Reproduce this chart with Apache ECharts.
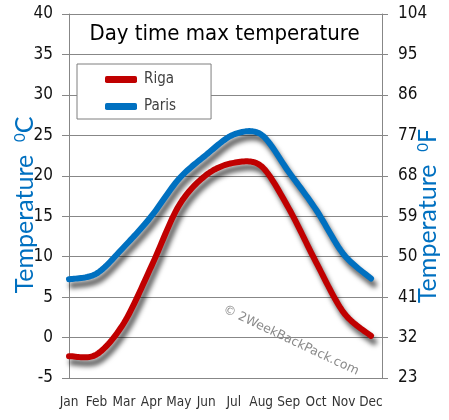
<!DOCTYPE html>
<html><head><meta charset="utf-8">
<script src="https://cdn.jsdelivr.net/npm/echarts@6/dist/echarts.min.js"></script>
<style>html,body{margin:0;padding:0;background:#fff}#c{width:449px;height:420px}</style>
</head><body><div id="c"></div>
<script>
var months = ['Jan','Feb','Mar','Apr','May','Jun','Jul','Aug','Sep','Oct','Nov','Dec'];
var riga = [-2.3, -2.1, 1.8, 8.8, 16.3, 20.1, 21.6, 21.2, 16.0, 9.3, 3.1, 0.2];
var paris = [7.2, 7.9, 11.2, 15.0, 19.6, 22.6, 25.1, 25.1, 20.5, 15.8, 10.3, 7.3];
var celsiusTicks = [-5, 0, 5, 10, 15, 20, 25, 30, 35, 40];
var fahrenheitTicks = [23, 32, 41, 50, 59, 68, 77, 86, 95, 104];

function pts(arr){ return arr.map(function(v,i){ return [i, v]; }); }

// smooth (Catmull-Rom style) line through the data points, positioned by api.coord
function smoothRenderer(arr, color){
  return function(params, api){
    if (params.dataIndex !== 0) return null;
    var p = arr.map(function(v,i){ return api.coord([i, v]); });
    var out = [p[0]];
    var t = 0.155, steps = 16;
    for (var i = 0; i < p.length-1; i++){
      var p0 = p[i-1] || p[i], p1 = p[i], p2 = p[i+1], p3 = p[i+2] || p[i+1];
      var c1 = [p1[0]+(p2[0]-p0[0])*t, p1[1]+(p2[1]-p0[1])*t];
      var c2 = [p2[0]-(p3[0]-p1[0])*t, p2[1]-(p3[1]-p1[1])*t];
      for (var s = 1; s <= steps; s++){
        var u = s/steps, a = (1-u)*(1-u)*(1-u), b = 3*(1-u)*(1-u)*u, c = 3*(1-u)*u*u, d = u*u*u;
        out.push([a*p1[0]+b*c1[0]+c*c2[0]+d*p2[0], a*p1[1]+b*c1[1]+c*c2[1]+d*p2[1]]);
      }
    }
    return {type:'polyline', shape:{points:out},
      style:{fill:null, stroke:color, lineWidth:6, lineCap:'round', lineJoin:'round',
        shadowColor:'rgba(0,0,0,0.65)', shadowBlur:5, shadowOffsetX:3, shadowOffsetY:6}};
  };
}

var chart = echarts.init(document.getElementById('c'), null, {renderer:'canvas'});
var labelFont = 'DejaVu Sans Condensed, sans-serif';
var nameFont = 'Lato, Noto Sans, sans-serif';
var gridCol = '#878787';
var nameRich = {s:{fontFamily:nameFont, fontSize:15, fill:'#0070c0', verticalAlign:'top', padding:[0,0,8,0]}};

chart.setOption({
  animation:false,
  backgroundColor:'#ffffff',
  title:{
    text:'Day time max temperature', left:'center', top:18,
    textStyle:{fontFamily:'DejaVu Sans Condensed, sans-serif', fontWeight:'normal', fontSize:22, color:'#000'}
  },
  legend:{
    data:['Riga','Paris'], orient:'vertical', left:77, top:64,
    backgroundColor:'#fff', borderColor:'#7f7f7f', borderWidth:1,
    padding:[8,35,5,28], itemGap:12, itemWidth:32, itemHeight:7, icon:'roundRect',
    textStyle:{fontFamily:labelFont, fontSize:15, color:'#404040', padding:[0,0,0,2]}
  },
  grid:{left:69, right:67, top:14, bottom:42, containLabel:false, outerBoundsMode:'none'},
  xAxis:{
    type:'value', min:0, max:11.4, interval:1,
    axisLine:{show:true, lineStyle:{color:gridCol}},
    axisTick:{show:false}, splitLine:{show:false},
    axisLabel:{showMaxLabel:false, margin:17, fontFamily:labelFont, fontSize:13.5, color:'#333',
      formatter:function(v){ return months[Math.round(v)] || ''; }}
  },
  yAxis:[{
    type:'value', min:celsiusTicks[0], max:celsiusTicks[celsiusTicks.length-1], interval:5, position:'left',
    axisLine:{show:true, lineStyle:{color:gridCol}},
    axisTick:{show:true, length:7, lineStyle:{color:gridCol}},
    splitLine:{show:true, lineStyle:{color:gridCol, width:1}},
    axisLabel:{margin:16, fontFamily:labelFont, fontSize:17, color:'#111'}
  },{
    type:'value', min:celsiusTicks[0], max:celsiusTicks[celsiusTicks.length-1], interval:5, position:'right',
    axisLine:{show:true, lineStyle:{color:gridCol}},
    axisTick:{show:true, length:6, lineStyle:{color:gridCol}},
    splitLine:{show:false},
    axisLabel:{margin:16, fontFamily:labelFont, fontSize:17, color:'#111',
      formatter:function(v){ return String(fahrenheitTicks[celsiusTicks.indexOf(v)]); }}
  }],
  graphic:[{
    type:'text', left:221, top:303, rotation:-0.44, silent:true,
    style:{text:'\u00a9 2WeekBackPack.com', font:'12.5px DejaVu Sans', fill:'#8a8a8a'}
  },{
    type:'text', x:25, y:205, rotation:Math.PI/2, silent:true,
    style:{text:'Temperature  {s|0}C', fontFamily:nameFont, fontSize:25, fill:'#0070c0',
      align:'center', verticalAlign:'middle', rich:nameRich}
  },{
    type:'text', x:428, y:216, rotation:Math.PI/2, silent:true,
    style:{text:'Temperature  {s|0}F', fontFamily:nameFont, fontSize:25, fill:'#0070c0',
      align:'center', verticalAlign:'middle', rich:nameRich}
  }],
  series:[{
    name:'Riga', type:'custom', data:pts(riga), encode:{x:0, y:1},
    itemStyle:{color:'#c00000'}, renderItem:smoothRenderer(riga, '#c00000')
  },{
    name:'Paris', type:'custom', data:pts(paris), encode:{x:0, y:1},
    itemStyle:{color:'#0070c0'}, renderItem:smoothRenderer(paris, '#0070c0')
  }]
});
</script></body></html>
